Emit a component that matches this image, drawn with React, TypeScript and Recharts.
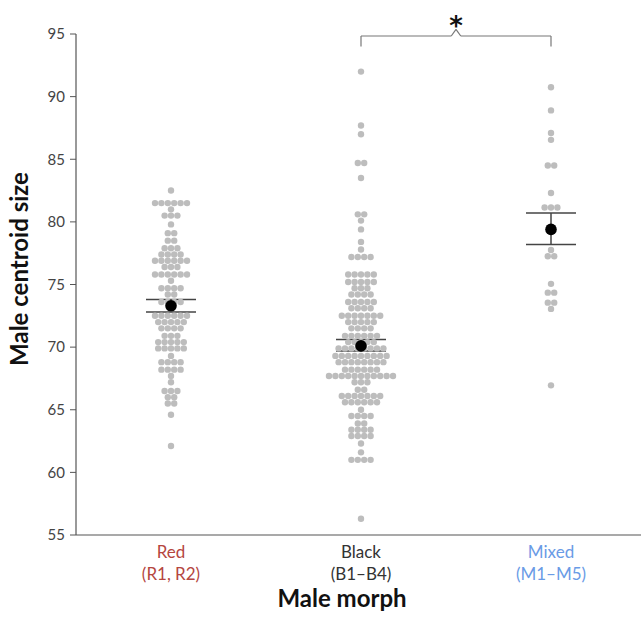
import React from 'react';
import { ScatterChart, Scatter, XAxis, YAxis, ErrorBar, ReferenceLine, ReferenceDot, Label } from 'recharts';

const categories = ['Red', 'Black', 'Mixed'];
const categorySubLabels = ['(R1, R2)', '(B1\u2013B4)', '(M1\u2013M5)'];
const categoryColors = ['#b5463f', '#333333', '#6a9be6'];
const categoryCenters = [0.5, 1.5, 2.5];

const redValues = [
  82.5,
  81.5, 81.5, 81.5, 81.5, 81.5, 81.5,
  81.0,
  80.5, 80.5, 80.5,
  79.8,
  79.1, 79.1,
  78.5, 78.5,
  77.9, 77.9, 77.9,
  77.4, 77.4, 77.4, 77.4,
  76.9, 76.9, 76.9, 76.9, 76.9, 76.9,
  76.4, 76.4, 76.4,
  75.8, 75.8, 75.8, 75.8, 75.8, 75.8,
  75.3,
  74.7, 74.7, 74.7, 74.7,
  74.2, 74.2,
  73.6, 73.6, 73.6, 73.6,
  73.1,
  72.5, 72.5, 72.5, 72.5, 72.5, 72.5,
  72.0, 72.0, 72.0, 72.0, 72.0,
  71.5, 71.5, 71.5, 71.5,
  70.9, 70.9, 70.9,
  70.4, 70.4, 70.4, 70.4, 70.4,
  69.9, 69.9, 69.9, 69.9, 69.9,
  69.3,
  68.8, 68.8, 68.8, 68.8,
  68.2, 68.2, 68.2, 68.2,
  67.7,
  67.2,
  66.5, 66.5, 66.5,
  66.0, 66.0,
  65.5, 65.5,
  64.6,
  62.1,
];

const blackValues = [
  92.0,
  87.7,
  87.0,
  84.7, 84.7,
  83.5,
  80.6, 80.6,
  80.1,
  79.4,
  78.4,
  77.8,
  77.2, 77.2, 77.2, 77.2,
  75.8, 75.8, 75.8, 75.8, 75.8,
  75.2, 75.2, 75.2, 75.2, 75.2,
  74.7, 74.7, 74.7,
  74.2, 74.2, 74.2, 74.2,
  73.6, 73.6, 73.6, 73.6, 73.6,
  73.1, 73.1, 73.1, 73.1,
  72.5, 72.5, 72.5, 72.5, 72.5, 72.5, 72.5,
  72.0, 72.0, 72.0, 72.0, 72.0,
  71.5, 71.5, 71.5, 71.5,
  70.9, 70.9, 70.9, 70.9, 70.9, 70.9,
  70.4, 70.4, 70.4, 70.4, 70.4,
  69.9, 69.9, 69.9, 69.9, 69.9, 69.9, 69.9, 69.9,
  69.3, 69.3, 69.3, 69.3, 69.3, 69.3, 69.3, 69.3, 69.3,
  68.8, 68.8, 68.8, 68.8, 68.8, 68.8, 68.8, 68.8,
  68.2, 68.2, 68.2, 68.2, 68.2, 68.2,
  67.7, 67.7, 67.7, 67.7, 67.7, 67.7, 67.7, 67.7, 67.7, 67.7, 67.7,
  67.2, 67.2, 67.2,
  66.6, 66.6,
  66.1, 66.1, 66.1, 66.1, 66.1, 66.1, 66.1,
  65.6, 65.6, 65.6, 65.6, 65.6, 65.6,
  65.0,
  64.5, 64.5, 64.5, 64.5,
  63.9, 63.9,
  63.4, 63.4, 63.4, 63.4,
  62.9, 62.9, 62.9, 62.9,
  62.3,
  61.6,
  61.0, 61.0, 61.0, 61.0,
  56.3,
];

const mixedValues = [
  90.75,
  88.9,
  87.1,
  86.55,
  84.5, 84.5,
  82.3,
  81.15, 81.15, 81.15,
  77.75,
  77.25, 77.25,
  75.05,
  74.35, 74.35,
  73.55, 73.55,
  73.05,
  66.95,
];

const means = [73.3, 70.1, 79.4];
const upperSE = [73.8, 70.6, 80.7];
const lowerSE = [72.8, 69.7, 78.2];

const yTicks = [55, 60, 65, 70, 75, 80, 85, 90, 95];

const SWARM_STEP = 0.0337;
const FONT = 'Lato, "Open Sans", sans-serif';

function swarm(values: number[], center: number) {
  const counts = new Map<number, number>();
  values.forEach((v) => counts.set(v, (counts.get(v) || 0) + 1));
  const used = new Map<number, number>();
  return values.map((v) => {
    const n = counts.get(v) || 1;
    const i = used.get(v) || 0;
    used.set(v, i + 1);
    return { x: center + (i - (n - 1) / 2) * SWARM_STEP, y: v };
  });
}

const pointData = [
  ...swarm(redValues, categoryCenters[0]),
  ...swarm(blackValues, categoryCenters[1]),
  ...swarm(mixedValues, categoryCenters[2]),
];

const meanData = means.map((m, i) => ({
  x: categoryCenters[i],
  y: m,
  err: [m - lowerSE[i], upperSE[i] - m],
}));

// significance bracket between Black and Mixed
const bracketY = 94.84;
const bracketEnd = 94.0;
const bracketPeak = 95.37;
const bracketSegments: { x: number; y: number }[][] = [
  [{ x: 1.5, y: bracketEnd }, { x: 1.5, y: bracketY }],
  [{ x: 1.5, y: bracketY }, { x: 1.975, y: bracketY }],
  [{ x: 1.975, y: bracketY }, { x: 2.0, y: bracketPeak }],
  [{ x: 2.0, y: bracketPeak }, { x: 2.025, y: bracketY }],
  [{ x: 2.025, y: bracketY }, { x: 2.5, y: bracketY }],
  [{ x: 2.5, y: bracketY }, { x: 2.5, y: bracketEnd }],
];

const CategoryTick = (props: any) => {
  const { x, y, payload } = props;
  const i = categoryCenters.indexOf(payload.value);
  if (i < 0) return null;
  return (
    <g>
      <text x={x} y={y + 15} textAnchor="middle" fill={categoryColors[i]} fontSize={17} fontFamily={FONT}>
        {categories[i]}
      </text>
      <text x={x} y={y + 37} textAnchor="middle" fill={categoryColors[i]} fontSize={17} fontFamily={FONT}>
        {categorySubLabels[i]}
      </text>
    </g>
  );
};

export default function App() {
  return (
    <div style={{ position: 'absolute', left: 0, top: 0, width: 641, height: 625, overflow: 'hidden', background: '#fff' }}>
      <ScatterChart width={646} height={625} margin={{ top: 34, right: 0, bottom: 0, left: 0 }}>
        <XAxis
          type="number"
          dataKey="x"
          domain={[0, 3]}
          ticks={categoryCenters}
          tickLine={false}
          axisLine={{ stroke: '#555', strokeWidth: 1.2 }}
          tick={<CategoryTick />}
          height={90}
          interval={0}
        >
          <Label
            content={() => (
              <text x={342} y={607} textAnchor="middle" fontSize={24} fontWeight="bold" fill="#111" fontFamily={FONT}>
                Male morph
              </text>
            )}
          />
        </XAxis>
        <YAxis
          type="number"
          dataKey="y"
          domain={[55, 95]}
          ticks={yTicks}
          width={76}
          tickSize={6}
          tickMargin={5}
          tick={{ fill: '#444', fontSize: 15, fontFamily: FONT }}
          tickLine={{ stroke: '#555' }}
          axisLine={{ stroke: '#555', strokeWidth: 1.2 }}
        >
          <Label
            content={() => (
              <text
                x={28}
                y={269}
                textAnchor="middle"
                fontSize={24}
                fontWeight="bold"
                fill="#111"
                fontFamily={FONT}
                transform="rotate(-90 28 269)"
              >
                Male centroid size
              </text>
            )}
          />
        </YAxis>
        <Scatter
          data={pointData}
          isAnimationActive={false}
          shape={(p: any) => <circle cx={p.cx} cy={p.cy} r={3.2} fill="#bdbdbd" />}
        />
        <Scatter
          data={meanData}
          isAnimationActive={false}
          shape={(p: any) => <circle cx={p.cx} cy={p.cy} r={5.8} fill="#000" />}
        >
          <ErrorBar dataKey="err" direction="y" width={25} stroke="#444" strokeWidth={1.5} />
        </Scatter>
        {bracketSegments.map((seg, i) => (
          <ReferenceLine key={i} segment={seg} stroke="#777" strokeWidth={1.2} ifOverflow="visible" />
        ))}
        <ReferenceDot
          x={2.0}
          y={95}
          r={0}
          ifOverflow="visible"
          label={{
            content: (lp: any) => {
              const vb = lp.viewBox || {};
              const cx = (vb.x || 0) + (vb.width || 0) / 2;
              const cy = vb.y || 0;
              return (
                <text x={cx} y={cy + 1} textAnchor="middle" fontSize={26} fontWeight="bold" fill="#111" fontFamily="DejaVu Sans">
                  *
                </text>
              );
            },
          }}
        />
      </ScatterChart>
    </div>
  );
}
